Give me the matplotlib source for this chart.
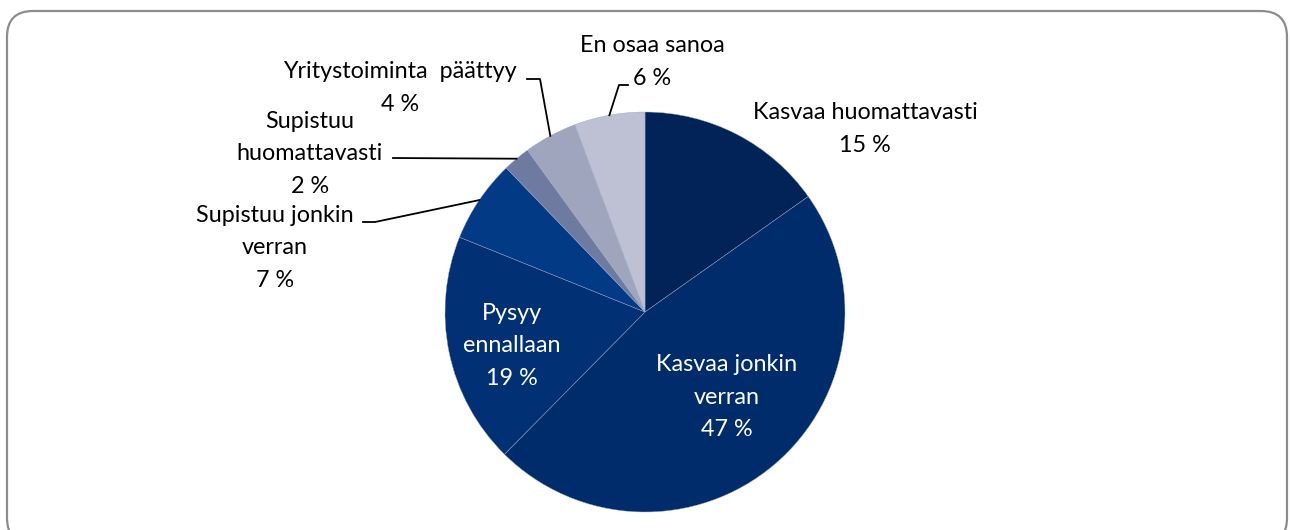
import numpy as np
import matplotlib
matplotlib.use("Agg")
import matplotlib.pyplot as plt
from matplotlib.patches import FancyBboxPatch

# data
categories = ["Kasvaa huomattavasti", "Kasvaa jonkin verran", "Pysyy ennallaan",
              "Supistuu jonkin verran", "Supistuu huomattavasti",
              "Yritystoiminta päättyy", "En osaa sanoa"]
label_text = ["Kasvaa huomattavasti", "Kasvaa jonkin\nverran", "Pysyy\nennallaan",
              "Supistuu jonkin\nverran", "Supistuu\nhuomattavasti",
              "Yritystoiminta  päättyy", "En osaa sanoa"]
values = [15.2, 47.2, 18.7, 6.7, 2.2, 4.3, 5.7]
colors = ["#022357", "#012C6B", "#013174", "#023A85", "#6E7AA0", "#A0A5BE", "#BEC1D3"]

W, H = 1290, 530
CX, CY, R = 645, 312, 200

def px(x, y):
    # image pixel coords -> data coords (y up)
    return x, H - y

# label layout (image pixels): centre of text block, text colour, leader knee points
label_pos = [(865, 129), (727, 397), (512, 346), (275, 248), (310, 154), (400, 88), (652, 62)]
label_col = ["black", "white", "white", "black", "black", "black", "black"]
leaders = {3: [(375, 222), (363, 222)],
           4: [(393, 158)],
           5: [(540, 79), (527, 79)],
           6: [(619, 85), (628, 85)]}

plt.rcParams["font.family"] = ["Lato", "DejaVu Sans"]

fig = plt.figure(figsize=(W / 100, H / 100), dpi=100)
ax = fig.add_axes([0, 0, 1, 1])

frame = FancyBboxPatch((7, -14), 1280, 533, boxstyle="round,pad=0,rounding_size=26",
                       facecolor="white", edgecolor="#8c8c8c", linewidth=1.6, zorder=0)
ax.add_patch(frame)

wedges, _ = ax.pie(values, colors=colors, startangle=90, counterclock=False,
                   center=px(CX, CY), radius=R,
                   wedgeprops=dict(edgecolor="#9aa6c4", linewidth=0.3))

for i, w in enumerate(wedges):
    txt = "%s\n%d %%" % (label_text[i], round(values[i]))
    x, y = px(*label_pos[i])
    ax.text(x, y, txt, ha="center", va="center", multialignment="center",
            fontsize=16.8, color=label_col[i], linespacing=1.7, zorder=5)
    if i in leaders:
        mid = np.deg2rad((w.theta1 + w.theta2) / 2)
        ex, ey = CX + R * np.cos(mid), CY - R * np.sin(mid)
        pts = [(ex, ey)] + leaders[i]
        xs = [p[0] for p in pts]
        ys = [H - p[1] for p in pts]
        ax.plot(xs, ys, color="black", linewidth=1.3, zorder=4)

ax.set_xlim(0, W)
ax.set_ylim(0, H)
ax.set_aspect("equal")
ax.axis("off")

fig.savefig("out.png", dpi=100)
